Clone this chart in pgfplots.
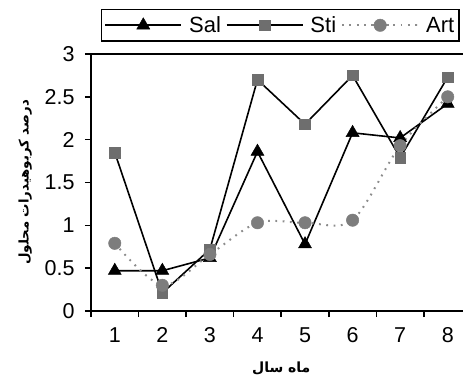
\documentclass[border=0pt]{standalone}
\usepackage{fontspec}
\setmainfont{Liberation Sans}
\newfontfamily\arabicfont[Script=Arabic]{DejaVu Sans}
\TeXXeTstate=1
\usepackage{pgfplots}
\pgfplotsset{compat=1.18}
\definecolor{mk}{RGB}{110,110,110}
\definecolor{ck}{RGB}{125,125,125}
\definecolor{dl}{RGB}{140,140,140}
\begin{document}
\begin{tikzpicture}
\begin{axis}[
  scale only axis, width=380.5pt, height=257pt,
  xmin=0.5, xmax=8.5, ymin=0, ymax=3,
  axis x line=box, axis y line=left,
  axis line style={line width=2pt, -},
  xtick pos=bottom, ytick pos=left,
  xtick={0.5,1.5,2.5,3.5,4.5,5.5,6.5,7.5},
  xticklabels={1,2,3,4,5,6,7,8},
  x tick label style={xshift=23.8pt, yshift=-7pt},
  ytick={0,0.5,1,1.5,2,2.5,3},
  yticklabels={0,0.5,1,1.5,2,2.5,3},
  y tick label style={xshift=-7pt},
  tick align=outside, major tick length=6pt,
  tick style={line width=1.5pt, black},
  tick label style={font=\fontsize{21.5}{24}\selectfont},
  /pgf/number format/assume math mode=true,
  xlabel={\arabicfont\bfseries\beginR ماه سال\endR},
  xlabel style={at={(axis description cs:0.5,-0.222)}, anchor=center, font=\fontsize{14}{16}\selectfont},
  ylabel={\arabicfont\bfseries\beginR درصد کربوهیدرات محلول\endR},
  ylabel style={at={(axis description cs:-0.173,0.5)}, anchor=center, font=\fontsize{13.3}{15}\selectfont},
  legend columns=3,
  legend style={at={(axis description cs:0.97,1.176)}, anchor=north east,
    draw=black, line width=1.6pt, font=\fontsize{22}{24}\selectfont,
    inner xsep=3pt, inner ysep=5pt, column sep=5pt,
    /tikz/every even column/.append style={column sep=3pt}},
  legend image code/.code={\draw[mark repeat=2,mark phase=2,#1] plot coordinates {(0pt,0pt) (38pt,0pt) (76pt,0pt)};},
]
\addplot[black, line width=1.6pt, mark=triangle*, mark size=7.5pt, mark options={solid, fill=black, draw=black, line width=0.5pt}]
  coordinates {(1,0.47) (2,0.47) (3,0.62) (4,1.86) (5,0.78) (6,2.08) (7,2.02) (8,2.42)};
\addlegendentry{Sal}
\addplot[black, line width=1.6pt, mark=square*, mark size=5.3pt, mark options={solid, fill=mk, draw=mk, line width=0.5pt}]
  coordinates {(1,1.85) (2,0.21) (3,0.72) (4,2.70) (5,2.18) (6,2.75) (7,1.79) (8,2.73)};
\addlegendentry{Sti}
\addplot[dl, line width=2pt, dash pattern=on 1.8pt off 5.5pt, smooth, mark=*, mark size=6.2pt, mark options={solid, fill=ck, draw=ck, line width=0.5pt}]
  coordinates {(1,0.79) (2,0.30) (3,0.66) (4,1.03) (5,1.03) (6,1.06) (7,1.93) (8,2.50)};
\addlegendentry{Art}
\coordinate (bl) at (rel axis cs:0,0);
\end{axis}
\pgfresetboundingbox
\path (bl) ++(-91pt,-67pt) rectangle ++(463pt,378pt);
\end{tikzpicture}
\end{document}
